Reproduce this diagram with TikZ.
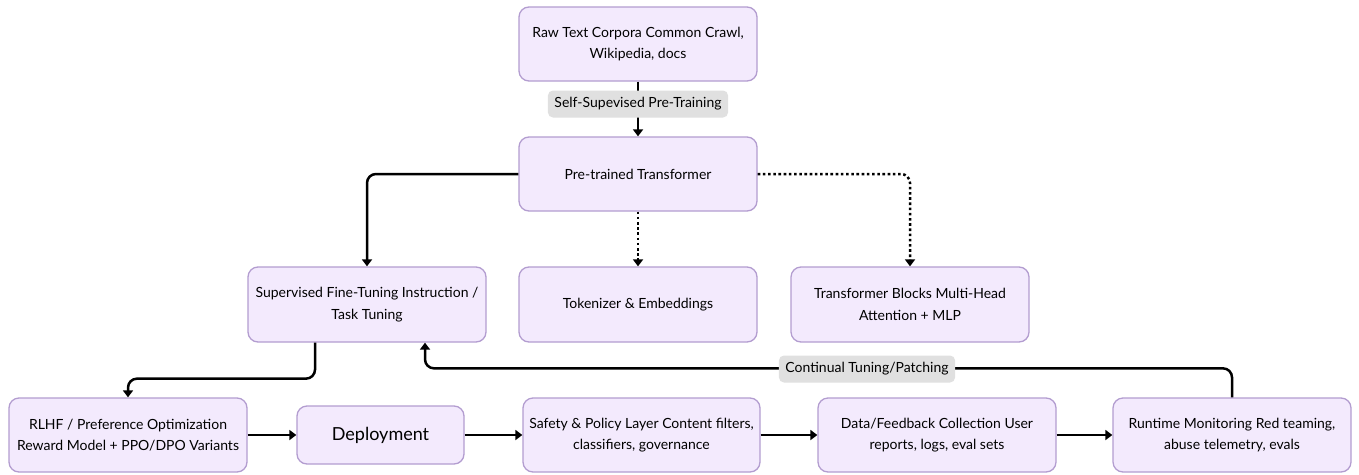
\documentclass[tikz,border=0pt]{standalone}
\usepackage{fontspec}
\setmainfont{Lato}
\usetikzlibrary{arrows.meta}
\definecolor{boxfill}{HTML}{F3EAFD}
\definecolor{boxdraw}{HTML}{B39DD0}
\definecolor{lblfill}{HTML}{E0E0E0}
\begin{document}
\begin{tikzpicture}[x=1pt,y=-1pt,
 box/.style={draw=boxdraw, fill=boxfill, line width=1.3pt, rounded corners=10pt,
   minimum width=238pt, minimum height=74pt, align=center,
   font=\fontsize{14}{21.5}\selectfont, inner sep=0pt},
 conn/.style={line width=2.5pt, -{Triangle[length=7pt,width=10pt]}, rounded corners=9pt},
 dotconn/.style={conn, dash pattern=on 2.6pt off 2.6pt},
 lbl/.style={fill=lblfill, rounded corners=5pt, font=\fontsize{14}{16}\selectfont,
   inner xsep=6.5pt, minimum height=27pt}
]
\useasboundingbox (0,0) rectangle (1359,474);
\fill[white] (0,0) rectangle (1359,474);

\node[box] (raw) at (638,44) {Raw Text Corpora Common Crawl,\\Wikipedia, docs};
\node[box] (pre) at (638,174) {Pre-trained Transformer};
\node[box, minimum height=75pt] (sft) at (367,304.5) {Supervised Fine-Tuning Instruction /\\Task Tuning};
\node[box, minimum height=75pt] (tok) at (638,304.5) {Tokenizer \& Embeddings};
\node[box, minimum height=75pt] (tb) at (910,304.5) {Transformer Blocks Multi-Head\\Attention + MLP};
\node[box] (rlhf) at (128,435) {RLHF / Preference Optimization\\Reward Model + PPO/DPO Variants};
\node[box, minimum width=167pt, minimum height=58pt, font=\fontsize{18}{22}\selectfont] (dep) at (380.5,435) {Deployment};
\node[box, minimum width=237pt] (saf) at (641.5,435) {Safety \& Policy Layer Content filters,\\classifiers, governance};
\node[box] (dat) at (937,435) {Data/Feedback Collection User\\reports, logs, eval sets};
\node[box] (rt) at (1232,435) {Runtime Monitoring Red teaming,\\abuse telemetry, evals};

\draw[conn] (raw) -- (pre);
\node[lbl] (l1) at (638,104) {Self-Supevised Pre-Training};

\draw[conn] (pre.west) -| (sft.north);
\draw[dotconn] (pre) -- (tok);
\draw[dotconn] (pre.east) -| (tb.north);

\draw[conn] ([xshift=-52pt]sft.south) -- ++(0,36) -| (rlhf.north);
\draw[conn] (rlhf) -- (dep);
\draw[conn] (dep) -- (saf);
\draw[conn] (saf) -- (dat);
\draw[conn] (dat) -- (rt);

\draw[conn] (rt.north) -- ++(0,-29) -| ([xshift=58pt]sft.south);
\node[lbl] (l2) at (867,369) {Continual Tuning/Patching};
\end{tikzpicture}
\end{document}
